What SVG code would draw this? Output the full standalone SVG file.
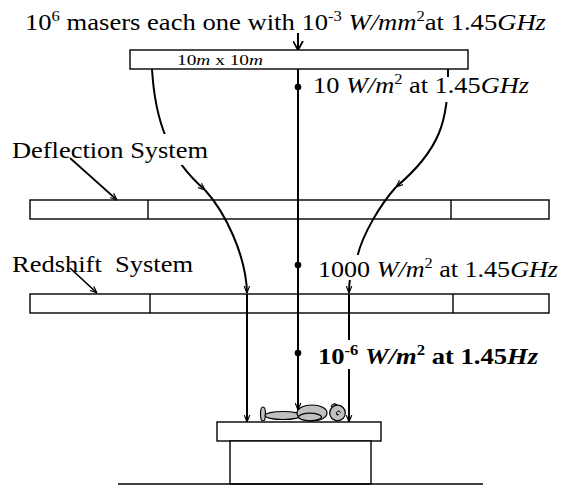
<svg xmlns="http://www.w3.org/2000/svg" width="562" height="486" viewBox="0 0 562 486">
<style>
text{font-family:"Liberation Serif","Times New Roman",serif;font-size:24px;fill:#000}
.sup{font-size:15px}
.it{font-style:italic}
.b{font-weight:bold}
.bar{fill:#fff;stroke:#000;stroke-width:1.4}
.ln{fill:none;stroke:#000;stroke-width:1.4}
.c{fill:none;stroke:#000;stroke-width:2}
.ptr{fill:none;stroke:#000;stroke-width:1.7}
.bg{fill:#fff}
.body{fill:#c0c0c0;stroke:#000;stroke-width:1.2}
.dot{fill:#000}
</style>
<defs>
<marker id="ah" viewBox="0 0 10 10" refX="10" refY="5" markerWidth="7" markerHeight="7" markerUnits="userSpaceOnUse" orient="auto"><path d="M0,1 L10,5 L0,9" fill="none" stroke="#000" stroke-width="1.6"/></marker>
<marker id="ahbig" viewBox="0 0 9 11" refX="9" refY="5.5" markerWidth="9" markerHeight="11" markerUnits="userSpaceOnUse" orient="auto"><path d="M0,0.5 L9,5.5 L0,10.5" fill="none" stroke="#000" stroke-width="1.8"/></marker>
</defs>
<rect width="562" height="486" fill="#fff"/>

<g id="maser-panel">
<rect class="bar" x="130" y="50" width="338" height="19"/>
<text x="177" y="65" style="font-size:15px" textLength="86" lengthAdjust="spacingAndGlyphs">10<tspan class="it">m</tspan> x 10<tspan class="it">m</tspan></text>
</g>

<g id="deflection-system">
<rect class="bar" x="30" y="200" width="519" height="19"/>
<line class="ln" x1="148" y1="200" x2="148" y2="219"/>
<line class="ln" x1="451" y1="200" x2="451" y2="219"/>
</g>

<g id="redshift-system">
<rect class="bar" x="30" y="294" width="519" height="19"/>
<line class="ln" x1="150" y1="294" x2="150" y2="313"/>
<line class="ln" x1="453" y1="294" x2="453" y2="313"/>
</g>

<g id="table">
<rect class="bar" x="217" y="422" width="164" height="19"/>
<rect class="bar" x="230" y="441" width="141" height="43"/>
<line class="ln" x1="118" y1="484" x2="483" y2="484"/>
</g>

<g id="person">
<ellipse class="body" cx="263" cy="414" rx="2.5" ry="7"/>
<ellipse class="body" cx="283" cy="415.5" rx="18" ry="4"/>
<ellipse class="body" cx="312" cy="413" rx="15" ry="8"/>
<ellipse class="body" cx="310" cy="417" rx="11.5" ry="3.8"/>
<path class="body" d="M331,407 Q333,402 337,405"/>
<circle class="body" cx="337.5" cy="413" r="7.8"/>
<path d="M338,415 a2,2 0 1 1 2.5,-2.5 M337,413 a1,1 0 1 0 1.5,1" fill="none" stroke="#000" stroke-width="1"/>
</g>

<g id="connectors">
<path class="c" d="M298,33 V50" marker-end="url(#ahbig)"/>
<path class="c" d="M298,69 V410" marker-end="url(#ah)"/>
<path class="c" d="M152,69 C155,120 168,158 205,190" marker-end="url(#ah)"/>
<path class="c" d="M205,190 C225,212 246,255 247,293" marker-end="url(#ah)"/>
<path class="c" d="M247,294 V422" marker-end="url(#ah)"/>
<path class="c" d="M448,69 C449,120 440,150 396,187" marker-end="url(#ah)"/>
<path class="c" d="M396,187 C380,205 362,235 357,258 C354,270 349,272 349,293" marker-end="url(#ah)"/>
<path class="c" d="M349,294 V422" marker-end="url(#ah)"/>
</g>

<g id="labels">
<text x="25" y="30" textLength="521" lengthAdjust="spacingAndGlyphs">10<tspan class="sup" dy="-9">6</tspan><tspan dy="9"> masers each one with 10</tspan><tspan class="sup" dy="-9">-3</tspan><tspan dy="9"> </tspan><tspan class="it">W/mm</tspan><tspan class="sup" dy="-9">2</tspan><tspan dy="9">at 1.45</tspan><tspan class="it">GHz</tspan></text>
<rect class="bg" x="311" y="77" width="222" height="25"/>
<text x="313" y="93" textLength="216" lengthAdjust="spacingAndGlyphs">10 <tspan class="it">W/m</tspan><tspan class="sup" dy="-9">2</tspan><tspan dy="9"> at 1.45</tspan><tspan class="it">GHz</tspan></text>
<rect class="bg" x="10" y="134" width="202" height="31"/>
<text x="12" y="158" textLength="196" lengthAdjust="spacingAndGlyphs">Deflection System</text>
<text x="12" y="272" textLength="181" lengthAdjust="spacingAndGlyphs">Redshift&#160; System</text>
<rect class="bg" x="316" y="255" width="244" height="25"/>
<text x="318" y="277" textLength="240" lengthAdjust="spacingAndGlyphs">1000 <tspan class="it">W/m</tspan><tspan class="sup" dy="-9">2</tspan><tspan dy="9"> at 1.45</tspan><tspan class="it">GHz</tspan></text>
<rect class="bg" x="316" y="340" width="226" height="29"/>
<text class="b" x="318" y="364" textLength="220" lengthAdjust="spacingAndGlyphs">10<tspan class="sup" dy="-9">-6</tspan><tspan dy="9"> </tspan><tspan class="it">W/m</tspan><tspan class="sup" dy="-9">2</tspan><tspan dy="9"> at 1.45</tspan><tspan class="it">Hz</tspan></text>
</g>

<g id="pointers">
<path class="ptr" d="M70,158 L117,200" marker-end="url(#ah)"/>
<path class="ptr" d="M70,268 L97,293" marker-end="url(#ah)"/>
<circle class="dot" cx="298" cy="87" r="3.3"/>
<circle class="dot" cx="298" cy="265" r="3.3"/>
<circle class="dot" cx="298" cy="353" r="3.3"/>
</g>
</svg>
